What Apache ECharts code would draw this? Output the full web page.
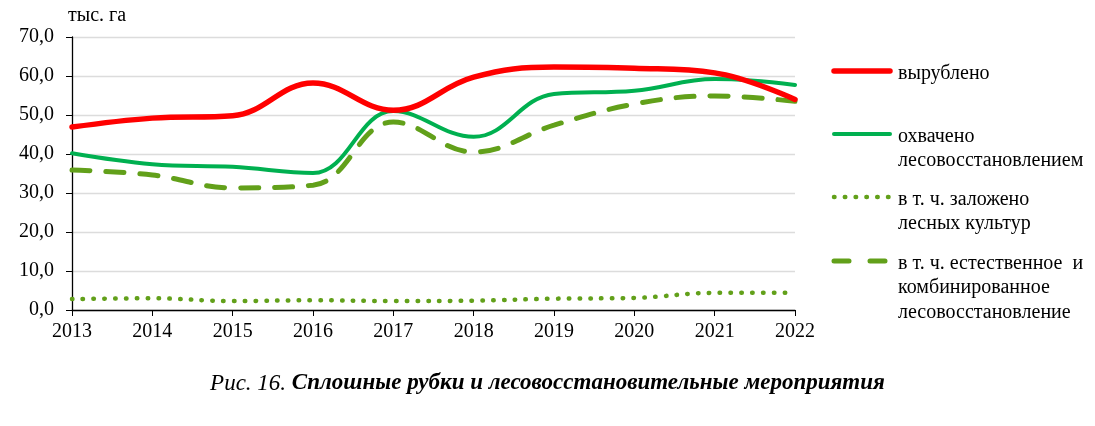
<!DOCTYPE html>
<html>
<head>
<meta charset="utf-8">
<script src="https://cdn.jsdelivr.net/npm/echarts@6/dist/echarts.min.js"></script>
<style>
  html, body { margin: 0; padding: 0; background: #fff; }
  #chart { width: 1095px; height: 426px; }
</style>
</head>
<body>
<div id="chart"></div>
<script>
// years on the x axis
const years = ['2013', '2014', '2015', '2016', '2017', '2018', '2019', '2020', '2021', '2022'];
// thousand hectares
const cut = [46.9, 49.2, 49.8, 58.2, 51.2, 59.7, 62.3, 62.0, 60.8, 54.0];
const restored = [40.2, 37.4, 36.7, 35.1, 51.0, 44.4, 55.4, 56.2, 59.2, 57.7];
const planted = [2.8, 3.0, 2.3, 2.5, 2.3, 2.4, 2.9, 3.1, 4.4, 4.4];
const natural = [35.9, 34.6, 31.3, 32.0, 48.2, 40.5, 47.4, 52.8, 54.9, 53.5];
const seriesNames = ['вырублено', 'охвачено\nлесовосстановлением', 'в т. ч. заложено\nлесных культур', 'в т. ч. естественное  и\nкомбинированное\nлесовосстановление'];

const serif = '"Liberation Serif", "DejaVu Serif", serif';
const RED = '#ff0000', GREEN = '#00b050', OLIVE = '#62a01a';

var chart = echarts.init(document.getElementById('chart'), null, { renderer: 'canvas' });

function legendItem(y, color, width, dash, cap, name) {
  return [
    {
      type: 'line',
      shape: { x1: 834, y1: y, x2: 890, y2: y },
      style: { stroke: color, lineWidth: width, lineDash: dash, lineCap: cap }
    },
    {
      type: 'text',
      left: 898, top: y - 10,
      style: { text: name, font: '20px ' + serif, fill: '#000', lineHeight: 24.5 }
    }
  ];
}

var option = {
  animation: false,
  grid: { left: 72, right: 300, top: 37, bottom: 116 },
  xAxis: {
    type: 'category',
    data: years,
    boundaryGap: false,
    axisLine: { lineStyle: { color: '#000', width: 1.3 } },
    axisTick: { show: true, length: 6, lineStyle: { color: '#000' } },
    axisLabel: { color: '#000', fontFamily: serif, fontSize: 20, margin: 12 }
  },
  yAxis: {
    type: 'value',
    min: 0, max: 70, interval: 10,
    axisLine: { show: true, lineStyle: { color: '#000', width: 1.3 } },
    axisTick: { show: true, length: 6, inside: false, lineStyle: { color: '#000' } },
    axisLabel: {
      color: '#000', fontFamily: serif, fontSize: 20, margin: 18,
      formatter: v => v.toFixed(1).replace('.', ',')
    },
    splitLine: { lineStyle: { color: '#dcdcdc', width: 1.3 } }
  },
  series: [
    {
      name: seriesNames[0], type: 'line', data: cut, smooth: 0.4, symbol: 'none',
      lineStyle: { color: RED, width: 5.5, cap: 'round' }, z: 4
    },
    {
      name: seriesNames[1], type: 'line', data: restored, smooth: 0.4, symbol: 'none',
      lineStyle: { color: GREEN, width: 4, cap: 'round' }, z: 3
    },
    {
      name: seriesNames[2], type: 'line', data: planted, smooth: 0.4, symbol: 'none',
      lineStyle: { color: OLIVE, width: 4.5, type: [0.5, 10.3], cap: 'round' }, z: 2
    },
    {
      name: seriesNames[3], type: 'line', data: natural, smooth: 0.4, symbol: 'none',
      lineStyle: { color: OLIVE, width: 5, type: [18, 16], cap: 'round' }, z: 2
    }
  ],
  graphic: [
    {
      type: 'text', left: 68, top: 6,
      style: { text: 'тыс. га', font: '20px ' + serif, fill: '#000' }
    },
    ...legendItem(71, RED, 5.5, null, 'round', seriesNames[0]),
    ...legendItem(134, GREEN, 4, null, 'round', seriesNames[1]),
    ...legendItem(197, OLIVE, 4.5, [0.5, 10.3], 'round', seriesNames[2]),
    ...legendItem(261, OLIVE, 5, [15, 21], 'round', seriesNames[3]),
    {
      type: 'text', left: 'center', top: 372,
      style: {
        text: '{a|Рис. 16. }{b|Сплошные рубки и лесовосстановительные мероприятия}',
        rich: {
          a: { font: 'italic 23px ' + serif, fill: '#000' },
          b: { font: 'italic bold 23px ' + serif, fill: '#000' }
        }
      }
    }
  ]
};

chart.setOption(option);
window.addEventListener('resize', chart.resize);
</script>
</body>
</html>
